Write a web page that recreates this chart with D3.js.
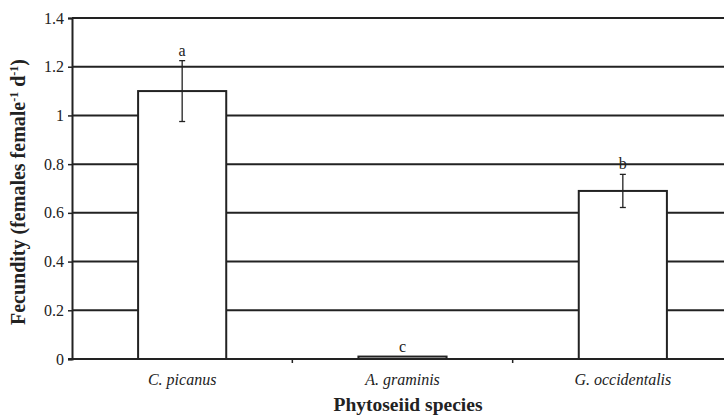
<!DOCTYPE html>
<html>
<head>
<meta charset="utf-8">
<script src="https://cdn.jsdelivr.net/npm/d3@7/dist/d3.min.js"></script>
<style>
  html, body { margin: 0; padding: 0; background: #ffffff; }
  svg { display: block; }
  text { font-family: "Liberation Serif", "Times New Roman", serif; fill: #222; }
</style>
</head>
<body>
<svg id="chart" width="724" height="415"></svg>
<script>
// Fecundity of three phytoseiid species
const species = ["C. picanus", "A. graminis", "G. occidentalis"];
const fecundity = [1.10, 0.01, 0.69];
const stdError = [0.125, 0, 0.068];
const letters = ["a", "c", "b"];
const yTicks = [0, 0.2, 0.4, 0.6, 0.8, 1, 1.2, 1.4];

const svg = d3.select("#chart");
const margin = { left: 72, top: 18, bottom: 56 };
const plotRight = 733;
const H = 415;
const serif = "'Liberation Serif', 'Times New Roman', serif";

const x = d3.scaleBand()
  .domain(species)
  .range([margin.left, plotRight])
  .paddingInner(0.6)
  .paddingOuter(0.3);

const y = d3.scaleLinear()
  .domain([0, 1.4])
  .range([H - margin.bottom, margin.top]);

const ink = "#222";

// horizontal gridlines
svg.append("g")
  .selectAll("line")
  .data(yTicks.slice(1))
  .join("line")
  .attr("x1", margin.left)
  .attr("x2", plotRight)
  .attr("y1", d => y(d))
  .attr("y2", d => y(d))
  .attr("stroke", ink)
  .attr("stroke-width", 2);

// bars
svg.append("g")
  .selectAll("rect")
  .data(species)
  .join("rect")
  .attr("x", d => x(d))
  .attr("width", x.bandwidth())
  .attr("y", (d, i) => y(fecundity[i]))
  .attr("height", (d, i) => y(0) - y(fecundity[i]))
  .attr("fill", "#fff")
  .attr("stroke", ink)
  .attr("stroke-width", 2);

// error bars
const err = svg.append("g").attr("stroke", ink).attr("stroke-width", 1.3);
species.forEach((s, i) => {
  if (!stdError[i]) return;
  const cx = x(s) + x.bandwidth() / 2;
  const top = y(fecundity[i] + stdError[i]);
  const bot = y(fecundity[i] - stdError[i]);
  err.append("line").attr("x1", cx).attr("x2", cx).attr("y1", top).attr("y2", bot);
  err.append("line").attr("x1", cx - 3).attr("x2", cx + 3).attr("y1", top).attr("y2", top);
  err.append("line").attr("x1", cx - 3).attr("x2", cx + 3).attr("y1", bot).attr("y2", bot);
});

// significance letters
svg.append("g")
  .selectAll("text")
  .data(species)
  .join("text")
  .attr("x", d => x(d) + x.bandwidth() / 2)
  .attr("y", (d, i) => y(fecundity[i] + stdError[i]) - 5)
  .attr("text-anchor", "middle")
  .attr("font-size", 16)
  .text((d, i) => letters[i]);

// y axis
const yAxis = svg.append("g")
  .attr("transform", `translate(${margin.left},0)`)
  .call(d3.axisLeft(y).tickValues(yTicks).tickSize(4).tickPadding(4)
    .tickFormat(d => d3.format("")(+d.toFixed(1))));
yAxis.attr("font-family", null).attr("font-size", null);
yAxis.select(".domain").attr("stroke", ink).attr("stroke-width", 2);
yAxis.selectAll(".tick line").attr("stroke", ink).attr("stroke-width", 1.5);
yAxis.selectAll(".tick text")
  .style("font-family", serif)
  .style("font-size", "16px")
  .attr("fill", ink);

// x axis with boundary ticks between categories
const xAxisY = y(0);
svg.append("line")
  .attr("x1", margin.left - 4).attr("x2", plotRight)
  .attr("y1", xAxisY).attr("y2", xAxisY)
  .attr("stroke", ink).attr("stroke-width", 2);

const step = x.step();
const boundaries = species.map((s, i) => x(s) - (x.paddingInner() * step) / 2).slice(1);
svg.append("g")
  .selectAll("line")
  .data(boundaries)
  .join("line")
  .attr("x1", d => d).attr("x2", d => d)
  .attr("y1", xAxisY).attr("y2", xAxisY + 4)
  .attr("stroke", ink).attr("stroke-width", 1.5);

// category labels
svg.append("g")
  .selectAll("text")
  .data(species)
  .join("text")
  .attr("x", d => x(d) + x.bandwidth() / 2)
  .attr("y", xAxisY + 26)
  .attr("text-anchor", "middle")
  .attr("font-style", "italic")
  .attr("font-size", 16)
  .text(d => d);

// axis titles
svg.append("text")
  .attr("x", 408)
  .attr("y", 411)
  .attr("text-anchor", "middle")
  .attr("font-weight", "bold")
  .attr("font-size", 19.5)
  .text("Phytoseiid species");

const yTitle = svg.append("text")
  .attr("transform", `translate(25,192) rotate(-90)`)
  .attr("text-anchor", "middle")
  .attr("font-weight", "bold")
  .attr("font-size", 20);
yTitle.append("tspan").text("Fecundity (females female");
yTitle.append("tspan").attr("dy", -7).attr("font-size", 12).text("-1");
yTitle.append("tspan").attr("dy", 7).text(" d");
yTitle.append("tspan").attr("dy", -7).attr("font-size", 12).text("-1");
yTitle.append("tspan").attr("dy", 7).text(")");
</script>
</body>
</html>
